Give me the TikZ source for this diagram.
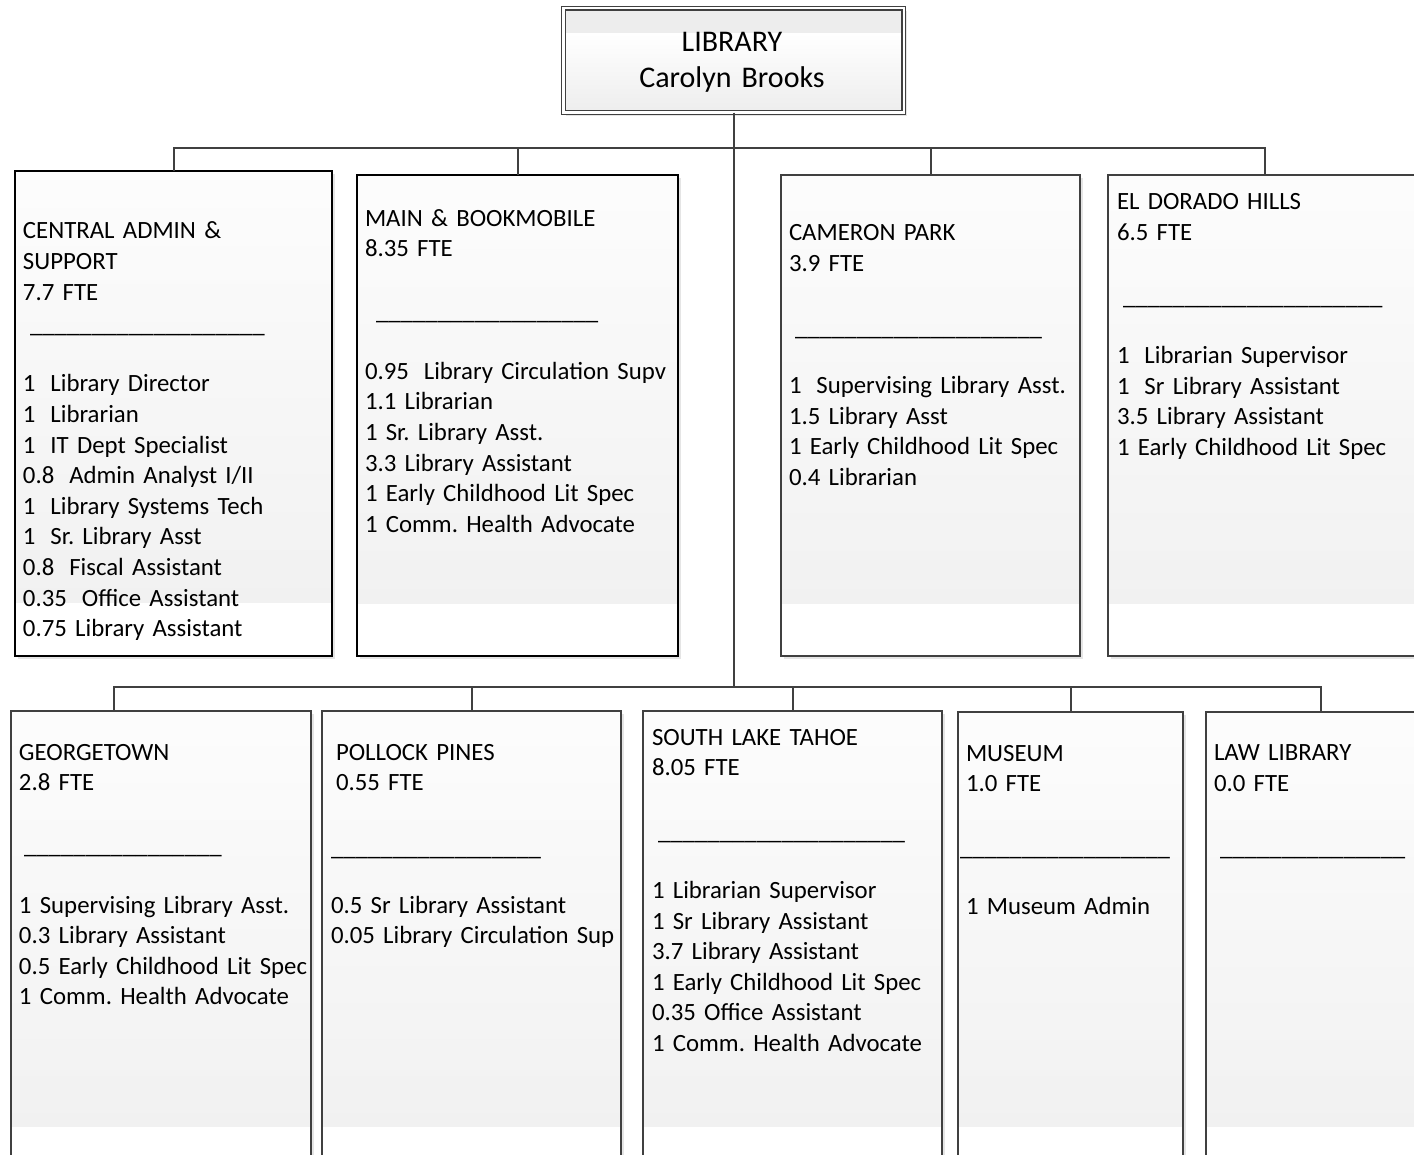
\documentclass[tikz,border=0pt]{standalone}
\usepackage{fontspec}
\setmainfont{Carlito}
\frenchspacing
\usetikzlibrary{shadows,calc}
\newcommand{\usline}[1]{\foreach \k in {1,...,#1}{\_}}
\newcommand{\dsp}{\hspace{0.6em}}
\tikzset{
  conn/.style={draw=black!75, line width=2pt},
  unitbox/.style={draw=black!75, line width=2pt, inner sep=0pt, outer sep=0pt, anchor=north west, fill=white,
    drop shadow={shadow xshift=3pt, shadow yshift=-3pt, fill=black!10, opacity=1},
    path picture={\shade[top color=black!1, bottom color=black!6] (path picture bounding box.north west) rectangle ($(path picture bounding box.south east)!0.11!(path picture bounding box.north east)$);}},
  darkbox/.style={unitbox, draw=black, line width=2.3pt},
  libbox/.style={draw=black!75, double=white, line width=1.2pt, double distance=2.4pt, inner sep=0pt, outer sep=0pt, fill=white,
    drop shadow={shadow xshift=3pt, shadow yshift=-3pt, fill=black!10, opacity=1},
    path picture={\fill[black!7] (path picture bounding box.north west) rectangle ($(path picture bounding box.north east)!0.24!(path picture bounding box.south east)$);
      \shade[top color=white, bottom color=black!7] ($(path picture bounding box.north west)!0.24!(path picture bounding box.south west)$) rectangle (path picture bounding box.south east);}},
  txt/.style={anchor=base west, inner sep=0pt, outer sep=0pt, align=left, text width=330pt, font=\fontsize{24.8}{30.6}\selectfont},
  libtxt/.style={anchor=base, inner sep=0pt, outer sep=0pt, align=center, text width=330pt, font=\fontsize{30}{35.6}\selectfont},
}
\begin{document}
\begin{tikzpicture}[x=1pt, y=-1pt]
\useasboundingbox (0,0) rectangle (1414,1155);
\clip (0,0) rectangle (1414,1155);
\fill[white] (0,0) rectangle (1414,1155);

% boxes
\node[libbox, minimum width=340.4pt, minimum height=104.5pt] (lib) at (733.5,60.4) {};
\node[darkbox, minimum width=317pt, minimum height=485pt] (ca) at (15,171) {};
\node[darkbox, minimum width=321pt, minimum height=481pt] (mb) at (357,175) {};
\node[unitbox, minimum width=299pt, minimum height=481pt] (cp) at (781,175) {};
\node[unitbox, minimum width=314pt, minimum height=481pt] (ed) at (1108,175) {};
\node[unitbox, minimum width=300pt, minimum height=467pt] (gt) at (11,711) {};
\node[unitbox, minimum width=299pt, minimum height=467pt] (pp) at (322,711) {};
\node[unitbox, minimum width=299pt, minimum height=467pt] (sl) at (643,711) {};
\node[unitbox, minimum width=225pt, minimum height=466pt] (mu) at (958,712) {};
\node[unitbox, minimum width=230pt, minimum height=466pt] (ll) at (1206,712) {};

% connectors
\coordinate (ub) at (733.5,148.3);
\coordinate (lb) at (733.5,686.5);
\draw[conn] (lib.south) -- (lb);
\draw[conn] (ca.north) |- (ub) -| (ed.north);
\draw[conn] (mb.north) -- (mb.north |- ub);
\draw[conn] (cp.north) -- (cp.north |- ub);
\draw[conn] ([xshift=-47pt]gt.north) |- (lb) -| (ll.north);
\draw[conn] (pp.north) -- (pp.north |- lb);
\draw[conn] (sl.north) -- (sl.north |- lb);
\draw[conn] (mu.north) -- (mu.north |- lb);

% top text
\node[libtxt] (libt) at (732,51.7) {LIBRARY\\Carolyn Brooks};

% central admin
\node[txt] (ca-h) at (23,239) {CENTRAL ADMIN \&\\SUPPORT\\7.7 FTE};
\node[txt] (ca-u) at (30,332.8) {\usline{19}};
\node[txt] (ca-i) at (23,392) {1\dsp Library Director\\1\dsp Librarian\\1\dsp IT Dept Specialist\\0.8\dsp Admin Analyst I/II\\1\dsp Library Systems Tech\\1\dsp Sr. Library Asst\\0.8\dsp Fiscal Assistant\\0.35\dsp Office Assistant\\0.75 Library Assistant};

% main
\node[txt] (mb-h) at (365,226.3) {MAIN \& BOOKMOBILE\\8.35 FTE};
\node[txt] (mb-u) at (376,320) {\usline{18}};
\node[txt] (mb-i) at (365,379.3) {0.95\dsp Library Circulation Supv\\1.1 Librarian\\1 Sr. Library Asst.\\3.3 Library Assistant\\1 Early Childhood Lit Spec\\1 Comm. Health Advocate};

% cameron park
\node[txt] (cp-h) at (789,240.5) {CAMERON PARK\\3.9 FTE};
\node[txt] (cp-u) at (795,336) {\usline{20}};
\node[txt] (cp-i) at (789,393.5) {1\dsp Supervising Library Asst.\\1.5 Library Asst\\1 Early Childhood Lit Spec\\0.4 Librarian};

% el dorado hills
\node[txt] (ed-h) at (1117,210) {EL DORADO HILLS\\6.5 FTE};
\node[txt] (ed-u) at (1123,304.8) {\usline{21}};
\node[txt] (ed-i) at (1117,363.5) {1\dsp Librarian Supervisor\\1\dsp Sr Library Assistant\\3.5 Library Assistant\\1 Early Childhood Lit Spec};

% georgetown
\node[txt] (gt-h) at (19,760) {GEORGETOWN\\2.8 FTE};
\node[txt] (gt-u) at (24,853.5) {\usline{16}};
\node[txt] (gt-i) at (19,913) {1 Supervising Library Asst.\\0.3 Library Assistant\\0.5 Early Childhood Lit Spec\\1 Comm. Health Advocate};

% pollock pines
\node[txt] (pp-h) at (336,760.3) {POLLOCK PINES\\0.55 FTE};
\node[txt] (pp-u) at (331,855) {\usline{17}};
\node[txt] (pp-i) at (331,913) {0.5 Sr Library Assistant\\0.05 Library Circulation Sup};

% south lake tahoe
\node[txt] (sl-h) at (652,745.3) {SOUTH LAKE TAHOE\\8.05 FTE};
\node[txt] (sl-u) at (658,839.5) {\usline{20}};
\node[txt] (sl-i) at (652,898.5) {1 Librarian Supervisor\\1 Sr Library Assistant\\3.7 Library Assistant\\1 Early Childhood Lit Spec\\0.35 Office Assistant\\1 Comm. Health Advocate};

% museum
\node[txt] (mu-h) at (966,761) {MUSEUM\\1.0 FTE};
\node[txt] (mu-u) at (960,855) {\usline{17}};
\node[txt] (mu-i) at (966,914) {1 Museum Admin};

% law library
\node[txt] (ll-h) at (1214,760.5) {LAW LIBRARY\\0.0 FTE};
\node[txt] (ll-u) at (1220,855) {\usline{15}};
\end{tikzpicture}
\end{document}
